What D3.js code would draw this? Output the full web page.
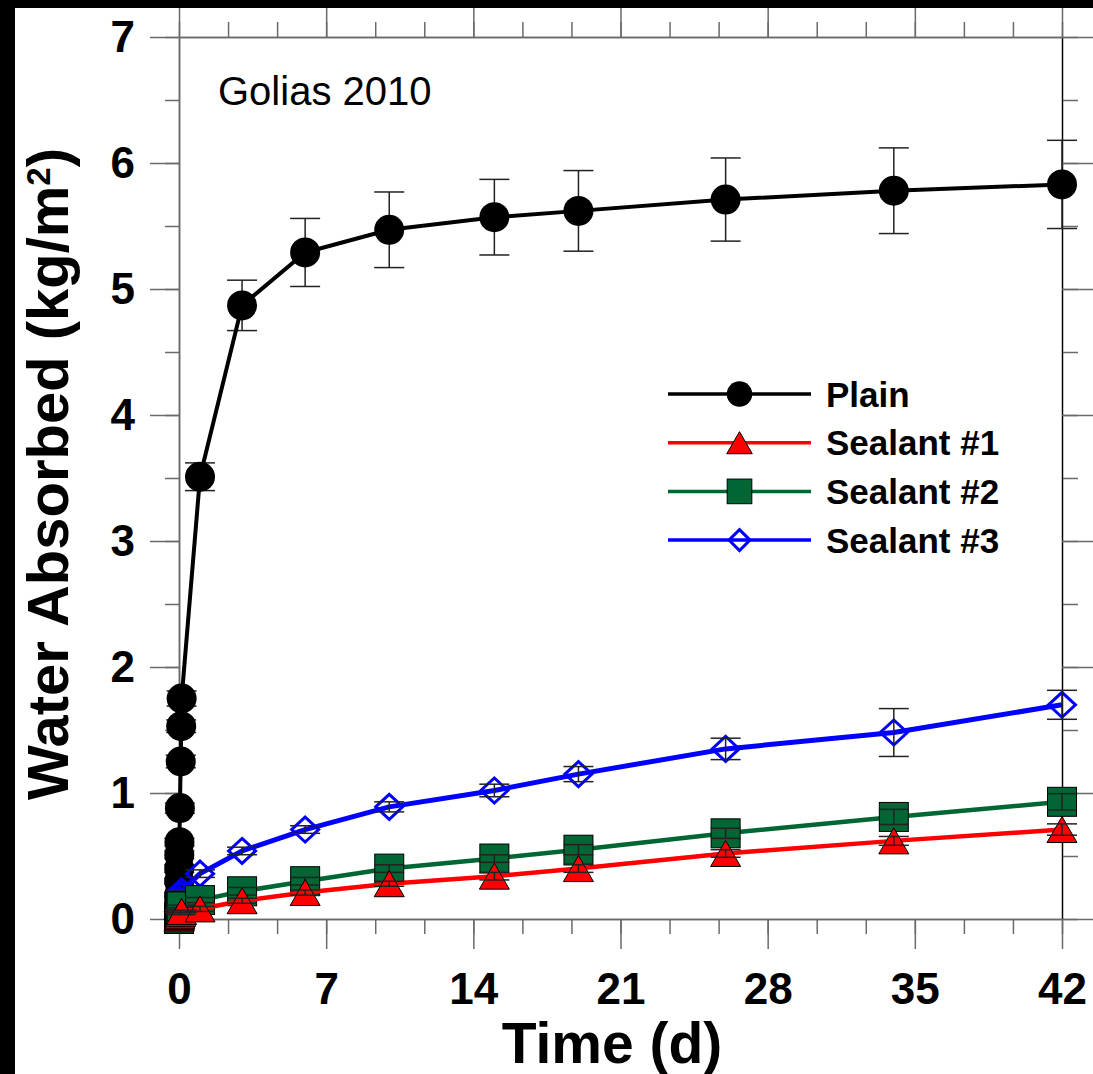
<!DOCTYPE html>
<html>
<head>
<meta charset="utf-8">
<script src="https://cdn.jsdelivr.net/npm/d3@7"></script>
<style>
  html, body { margin: 0; padding: 0; background: #000; }
  svg { display: block; }
  text { font-family: Arial, "Liberation Sans", sans-serif; }
</style>
</head>
<body>
<div id="viz"></div>
<script>
// ===== DATA =====
const timesPlain = [0, 0.0007, 0.0035, 0.007, 0.010, 0.014, 0.021, 0.042, 0.083, 0.104, 0.125, 1, 3, 6, 10, 15, 19, 26, 34, 42];
const plainValues = [0, 0.07, 0.19, 0.30, 0.40, 0.51, 0.61, 0.88, 1.25, 1.53, 1.75, 3.51, 4.87, 5.29, 5.47, 5.57, 5.62, 5.71, 5.78, 5.83];
const plainErrors = [0, 0, 0.02, 0.02, 0.03, 0.03, 0.03, 0.04, 0.05, 0.05, 0.06, 0.11, 0.20, 0.27, 0.30, 0.30, 0.32, 0.33, 0.34, 0.35];

const timesSealant = [0, 0.007, 0.021, 0.042, 0.083, 0.125, 1, 3, 6, 10, 15, 19, 26, 34, 42];
const sealant1Values = [0, 0.01, 0.02, 0.03, 0.045, 0.06, 0.08, 0.145, 0.21, 0.28, 0.34, 0.40, 0.52, 0.62, 0.71];
const sealant1Errors = [0, 0, 0, 0, 0.01, 0.01, 0.02, 0.02, 0.02, 0.02, 0.03, 0.03, 0.03, 0.035, 0.045];
const sealant2Values = [0, 0.02, 0.04, 0.06, 0.08, 0.10, 0.15, 0.22, 0.30, 0.40, 0.48, 0.55, 0.68, 0.81, 0.93];
const sealant2Errors = [0, 0, 0, 0.01, 0.01, 0.01, 0.02, 0.03, 0.03, 0.03, 0.03, 0.04, 0.04, 0.06, 0.065];
const sealant3Values = [0, 0.06, 0.11, 0.15, 0.19, 0.22, 0.36, 0.54, 0.71, 0.89, 1.02, 1.15, 1.35, 1.48, 1.70];
const sealant3Errors = [0, 0, 0, 0.01, 0.01, 0.01, 0.03, 0.03, 0.03, 0.04, 0.05, 0.06, 0.085, 0.19, 0.115];

const xTickValues = [0, 7, 14, 21, 28, 35, 42];
const yTickValues = [0, 1, 2, 3, 4, 5, 6, 7];
const seriesNames = ['Plain', 'Sealant #1', 'Sealant #2', 'Sealant #3'];

// ===== DIMENSIONS =====
const dimensions = {
  width: 1093,
  height: 1074,
  margin: { top: 37, right: 31, bottom: 155, left: 179 },
};
dimensions.boundedWidth = dimensions.width - dimensions.margin.left - dimensions.margin.right;
dimensions.boundedHeight = dimensions.height - dimensions.margin.top - dimensions.margin.bottom;

// ===== CANVAS =====
const svg = d3.select('#viz').append('svg')
  .attr('width', dimensions.width)
  .attr('height', dimensions.height);

svg.append('rect').attr('width', dimensions.width).attr('height', dimensions.height).attr('fill', '#000');
svg.append('rect').attr('x', 15).attr('y', 8)
  .attr('width', dimensions.width - 15).attr('height', dimensions.height - 8).attr('fill', '#fff');

const viz = svg.append('g')
  .attr('transform', `translate(${dimensions.margin.left}, ${dimensions.margin.top})`);

// ===== SCALES =====
const xScale = d3.scaleLinear().domain([0, 42]).range([0, dimensions.boundedWidth]);
const yScale = d3.scaleLinear().domain([0, 7]).range([dimensions.boundedHeight, 0]);

const minorX = d3.range(0, 42.01, 7 / 3);
const minorY = d3.range(0, 7.01, 0.5);

// ===== AXES =====
const axisColor = '#6a6a6a';
function styleAxis(g, labelSize) {
  g.selectAll('.domain').attr('stroke', axisColor).attr('stroke-width', 1.5);
  g.selectAll('.tick line').attr('stroke', axisColor).attr('stroke-width', 1.5);
  g.selectAll('.tick text')
    .attr('fill', '#000')
    .style('font-size', labelSize + 'px')
    .style('font-weight', 'bold')
    .style('font-family', 'Arial, "Liberation Sans", sans-serif');
}

// minor ticks first
viz.append('g').call(d3.axisLeft(yScale).tickValues(minorY).tickSize(14).tickSizeOuter(0).tickFormat(''))
  .call(g => styleAxis(g, 0));
viz.append('g').attr('transform', `translate(${dimensions.boundedWidth},0)`)
  .call(d3.axisRight(yScale).tickValues(minorY).tickSize(16).tickSizeOuter(0).tickFormat(''))
  .call(g => styleAxis(g, 0));
viz.append('g').call(d3.axisTop(xScale).tickValues(minorX).tickSize(15).tickSizeOuter(0).tickFormat(''))
  .call(g => styleAxis(g, 0));
viz.append('g').attr('transform', `translate(0,${dimensions.boundedHeight})`)
  .call(d3.axisBottom(xScale).tickValues(minorX).tickSize(15).tickSizeOuter(0).tickFormat(''))
  .call(g => styleAxis(g, 0));

// major ticks
viz.append('g')
  .call(d3.axisLeft(yScale).tickValues(yTickValues).tickSize(29).tickSizeOuter(0).tickPadding(15).tickFormat(d3.format('d')))
  .call(g => styleAxis(g, 44));
const rightAxis = viz.append('g').attr('transform', `translate(${dimensions.boundedWidth},0)`)
  .call(d3.axisRight(yScale).tickValues(yTickValues).tickSize(31).tickSizeOuter(0).tickFormat(''))
  .call(g => styleAxis(g, 0));
rightAxis.select('.domain').attr('stroke', '#000').attr('stroke-width', 1.2);
viz.append('g')
  .call(d3.axisTop(xScale).tickValues(xTickValues).tickSize(29).tickSizeOuter(0).tickFormat(''))
  .call(g => styleAxis(g, 0));
viz.append('g').attr('transform', `translate(0,${dimensions.boundedHeight})`)
  .call(d3.axisBottom(xScale).tickValues(xTickValues).tickSize(30).tickSizeOuter(0).tickPadding(24).tickFormat(d3.format('d')))
  .call(g => styleAxis(g, 44));

// ===== DATA =====
const makeRows = (times, values, errors) => times.map((t, i) => ({ t, v: values[i], e: errors[i] }));
const series = [
  { name: seriesNames[0], rows: makeRows(timesPlain, plainValues, plainErrors), color: '#000', width: 4, marker: 'circle' },
  { name: seriesNames[3], rows: makeRows(timesSealant, sealant3Values, sealant3Errors), color: '#0000ff', width: 5, marker: 'diamond' },
  { name: seriesNames[2], rows: makeRows(timesSealant, sealant2Values, sealant2Errors), color: '#006633', width: 4.5, marker: 'square' },
  { name: seriesNames[1], rows: makeRows(timesSealant, sealant1Values, sealant1Errors), color: '#ff0000', width: 4.5, marker: 'triangle' },
];

function drawMarker(g, type, x, y, big) {
  const s = big ? 1 : 0.85;
  if (type === 'circle') {
    g.append('circle').attr('cx', x).attr('cy', y).attr('r', 15 * s).attr('fill', '#000');
  } else if (type === 'square') {
    const h = 14.5 * s;
    g.append('rect').attr('x', x - h).attr('y', y - h).attr('width', 2 * h).attr('height', 2 * h)
      .attr('fill', '#006633').attr('stroke', '#000').attr('stroke-width', 1);
  } else if (type === 'triangle') {
    const w = 15 * s, h = 13 * s;
    g.append('path').attr('d', `M${x},${y - h}L${x + w},${y + h}L${x - w},${y + h}Z`)
      .attr('fill', '#ff0000').attr('stroke', '#000').attr('stroke-width', 1);
  } else if (type === 'diamond') {
    const w = (big ? 13.5 : 10.5), h = (big ? 12.5 : 10.5);
    g.append('path').attr('d', `M${x},${y - h}L${x + w},${y}L${x},${y + h}L${x - w},${y}Z`)
      .attr('fill', 'none').attr('stroke', '#0000ff').attr('stroke-width', 3);
  }
}

function drawErrors(g, rows) {
  rows.filter(d => d.e > 0).forEach(d => {
    const x = xScale(d.t), y1 = yScale(d.v + d.e), y2 = yScale(d.v - d.e);
    g.append('line').attr('x1', x).attr('x2', x).attr('y1', y1).attr('y2', y2);
    g.append('line').attr('x1', x - 15).attr('x2', x + 15).attr('y1', y1).attr('y2', y1);
    g.append('line').attr('x1', x - 15).attr('x2', x + 15).attr('y1', y2).attr('y2', y2);
  });
  g.attr('stroke', '#222').attr('stroke-width', 1.5);
}

const lineGenerator = d3.line().x(d => xScale(d.t)).y(d => yScale(d.v));

series.forEach((s, i) => {
  const g = viz.append('g').attr('class', 'series');
  if (i === 0) drawErrors(g.append('g'), s.rows);
  g.append('path')
    .attr('d', lineGenerator(s.rows))
    .attr('fill', 'none')
    .attr('stroke', s.color)
    .attr('stroke-width', s.width)
    .attr('stroke-linejoin', 'round');
  const mg = g.append('g');
  s.rows.forEach(d => drawMarker(mg, s.marker, xScale(d.t), yScale(d.v), true));
  if (i > 0) drawErrors(g.append('g'), s.rows);
});

// ===== PERIPHERALS =====
svg.append('text')
  .attr('x', 218).attr('y', 105)
  .style('font-size', '40px')
  .attr('fill', '#000')
  .text('Golias 2010');

const legendItems = [
  { name: seriesNames[0], color: '#000', marker: 'circle' },
  { name: seriesNames[1], color: '#ff0000', marker: 'triangle' },
  { name: seriesNames[2], color: '#006633', marker: 'square' },
  { name: seriesNames[3], color: '#0000ff', marker: 'diamond' },
];
const legend = svg.append('g').attr('transform', 'translate(668, 394)');
legendItems.forEach((d, i) => {
  const row = legend.append('g').attr('transform', `translate(0, ${i * 48.7})`);
  row.append('line').attr('x1', 0).attr('x2', 143).attr('y1', 0).attr('y2', 0)
    .attr('stroke', d.color).attr('stroke-width', 3.5);
  drawMarker(row, d.marker, 71.5, 0, false);
  row.append('text')
    .attr('x', 158).attr('y', 0).attr('dy', '0.36em')
    .style('font-size', '35px').style('font-weight', 'bold')
    .attr('fill', '#000')
    .text(d.name);
});

svg.append('text')
  .attr('x', 612).attr('y', 1063)
  .attr('text-anchor', 'middle')
  .style('font-size', '57px').style('font-weight', 'bold')
  .attr('fill', '#000')
  .text('Time (d)');

const yLabel = svg.append('text')
  .attr('transform', 'translate(68, 474) rotate(-90)')
  .attr('text-anchor', 'middle')
  .style('font-size', '58px').style('font-weight', 'bold')
  .attr('fill', '#000');
yLabel.append('tspan').text('Water Absorbed (kg/m');
yLabel.append('tspan').attr('dy', '-18').style('font-size', '33px').text('2');
yLabel.append('tspan').attr('dy', '18').text(')');
</script>
</body>
</html>
